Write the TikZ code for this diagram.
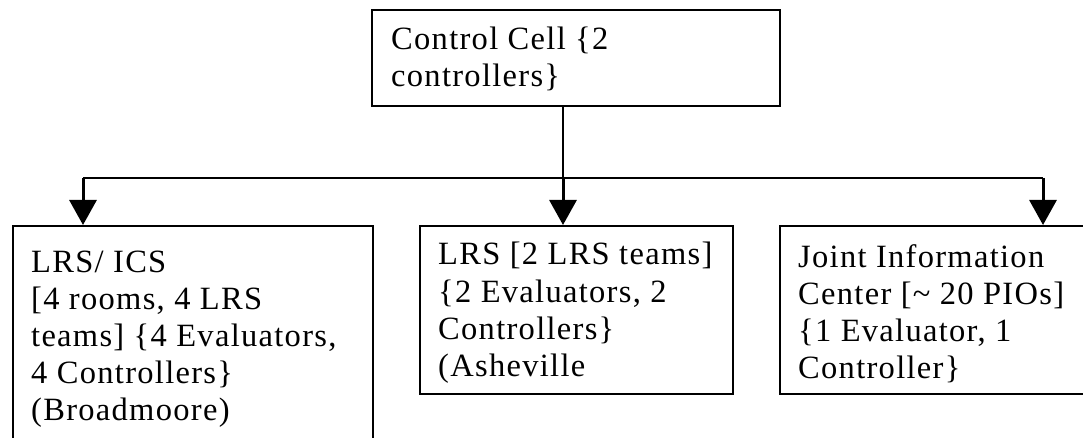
\documentclass[tikz,border=0pt]{standalone}
\usepackage{fontspec}
\setmainfont{Liberation Serif}[LetterSpace=4]
\usetikzlibrary{arrows.meta}

\tikzset{
  box/.style={draw=black, line width=1.8pt, rectangle, inner sep=0pt, anchor=north west},
  label text/.style={anchor=base west, inner sep=0pt, font=\fontsize{32.5}{37}\selectfont},
  link/.style={draw=black, line width=1.8pt},
  drop/.style={draw=black, line width=3pt, -{Triangle[width=27pt,length=25pt]}, shorten >=0pt},
}
\newcommand{\lines}[1]{\parbox[t]{14cm}{\raggedright #1}}

\begin{document}
\begin{tikzpicture}[x=1pt, y=-1pt]
  \useasboundingbox (0,0) rectangle (1083,438);
  \fill[white] (0,0) rectangle (1083,438);
  \clip (0,0) rectangle (1083,438);

  % boxes
  \node[box, minimum width=408pt, minimum height=96pt] (cell) at (371,9) {};
  \node[box, minimum width=360pt, minimum height=260pt] (ics) at (12,225) {};
  \node[box, minimum width=313pt, minimum height=168pt] (ashe) at (419,225) {};
  \node[box, minimum width=340pt, minimum height=168pt] (jic) at (779,225) {};

  % box texts
  \node[label text] (cellT) at (391,50) {\lines{Control Cell \{2\\controllers\}}};
  \node[label text] (icsT) at (31,272) {\lines{LRS/ ICS\\{[}4 rooms, 4 LRS\\teams] \{4 Evaluators,\\4 Controllers\}\\(Broadmoore)}};
  \node[label text] (asheT) at (438,265) {\lines{LRS [2 LRS teams]\\\{2 Evaluators, 2\\Controllers\}\\(Asheville}};
  \node[label text] (jicT) at (798,267) {\lines{Joint Information\\Center [\textasciitilde{} 20 PIOs]\\\{1 Evaluator, 1\\Controller\}}};

  % distribution bus
  \coordinate (hub) at (563,178);
  \coordinate (busL) at (83,178);
  \coordinate (busR) at (1043,178);
  \draw[link] (hub |- cell.south) -- (hub);
  \draw[link] (busL) -- (busR);

  % drops to the three boxes
  \draw[drop] (busL) -- (busL |- ics.north);
  \draw[drop] (hub) -- (hub |- ashe.north);
  \draw[drop] (busR) -- (busR |- jic.north);
\end{tikzpicture}
\end{document}
